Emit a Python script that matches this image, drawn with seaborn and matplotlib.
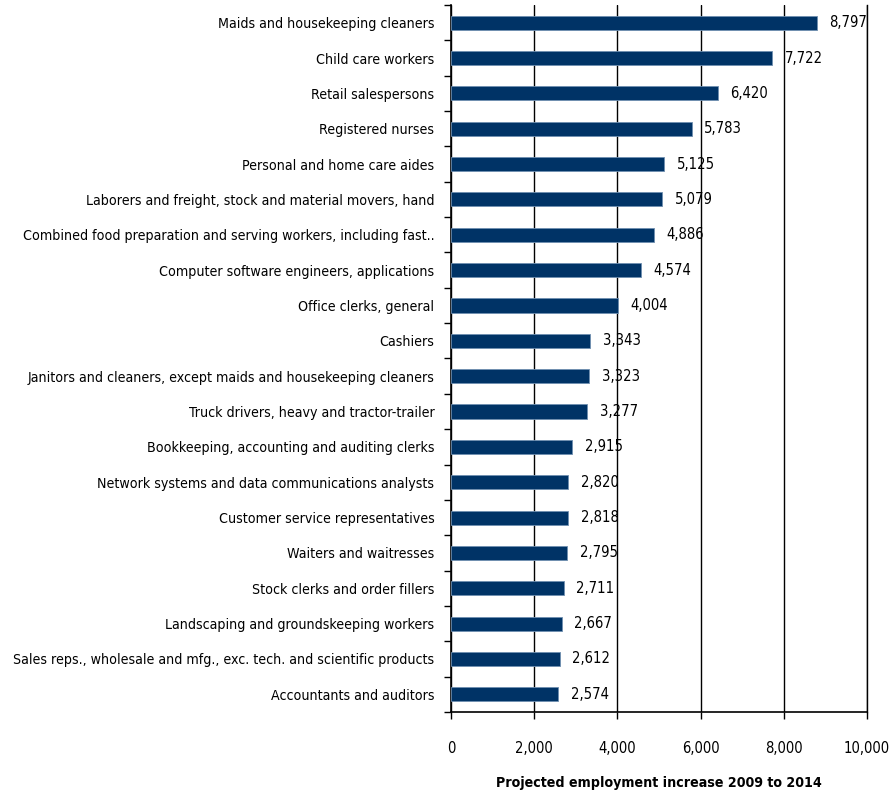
import matplotlib
matplotlib.use("Agg")
import matplotlib.pyplot as plt
from matplotlib import font_manager
import seaborn as sns
import pandas as pd
import numpy as np

occupations = [
    "Maids and housekeeping cleaners",
    "Child care workers",
    "Retail salespersons",
    "Registered nurses",
    "Personal and home care aides",
    "Laborers and freight, stock and material movers, hand",
    "Combined food preparation and serving workers, including fast..",
    "Computer software engineers, applications",
    "Office clerks, general",
    "Cashiers",
    "Janitors and cleaners, except maids and housekeeping cleaners",
    "Truck drivers, heavy and tractor-trailer",
    "Bookkeeping, accounting and auditing clerks",
    "Network systems and data communications analysts",
    "Customer service representatives",
    "Waiters and waitresses",
    "Stock clerks and order fillers",
    "Landscaping and groundskeeping workers",
    "Sales reps., wholesale and mfg., exc. tech. and scientific products",
    "Accountants and auditors",
]
increase = [8797, 7722, 6420, 5783, 5125, 5079, 4886, 4574, 4004, 3343,
            3323, 3277, 2915, 2820, 2818, 2795, 2711, 2667, 2612, 2574]
x_ticks = [0, 2000, 4000, 6000, 8000, 10000]

df = pd.DataFrame({"occupation": occupations, "increase": increase})

sns.set_theme(style="white")
# prefer a condensed sans face when one is available
condensed = [f.name for f in font_manager.fontManager.ttflist
             if f.stretch in ("condensed", "semi-condensed", 600, 500, 625)
             or "Narrow" in f.name or "Condensed" in f.name]
fam = condensed[0] if condensed else "Liberation Sans"
plt.rcParams["font.family"] = [fam, "DejaVu Sans"]
plt.rcParams["font.stretch"] = "condensed"
plt.rcParams["text.color"] = "black"
plt.rcParams["xtick.color"] = "black"
plt.rcParams["ytick.color"] = "black"
plt.rcParams["axes.labelcolor"] = "black"

fig = plt.figure(figsize=(8.91, 7.94), dpi=100)
ax = fig.add_axes([451 / 891, 1 - 712 / 794, (867 - 451) / 891, (712 - 5) / 794])

sns.barplot(data=df, x="increase", y="occupation", orient="h", ax=ax,
            color="#003366", width=0.4, edgecolor="#6f8fb0", linewidth=0.6,
            saturation=1, zorder=3)

fs = 10.2 if condensed else 9.2
ax.set_xlim(0, 10000)
ax.set_ylim(len(occupations) - 0.5, -0.5)
ax.set_xticks(x_ticks)
ax.set_xticklabels([f"{v:,}" for v in x_ticks], fontsize=fs + 0.4)
ax.tick_params(axis="x", length=5, width=1, color="black", pad=16, direction="out", bottom=True)
ax.tick_params(axis="y", which="major", length=0, pad=12, labelsize=fs)
ax.set_yticks(np.arange(-0.5, len(occupations), 1), minor=True)
ax.tick_params(axis="y", which="minor", length=5, width=1, color="black", direction="out", left=True)

ax.grid(axis="x", color="black", linewidth=1, zorder=1)
ax.spines["top"].set_visible(False)
for side in ["left", "bottom", "right"]:
    ax.spines[side].set_color("black")
ax.spines["left"].set_linewidth(1.2)
ax.spines["bottom"].set_linewidth(1.2)
ax.spines["right"].set_linewidth(1.0)

for i, v in enumerate(increase):
    ax.text(v + 300, i, f"{v:,}", va="center", ha="left", fontsize=fs + 0.4, zorder=4)

ax.set_ylabel("")
ax.set_xlabel("Projected employment increase 2009 to 2014", fontsize=fs,
              fontweight="bold", labelpad=14)

fig.savefig("out.png", dpi=100)
